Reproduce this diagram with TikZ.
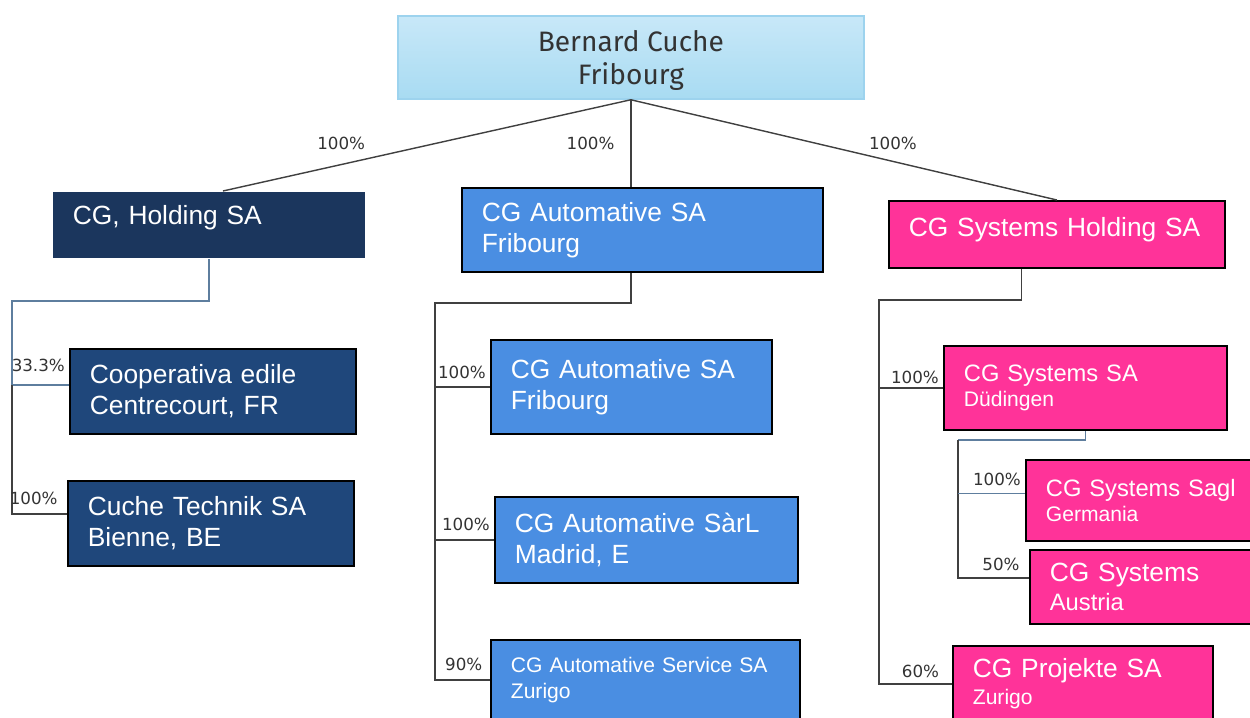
\documentclass[tikz,border=0pt]{standalone}
\usepackage{fontspec}
\setmainfont{Liberation Sans}
\newfontfamily\ownerfont{Fira Sans}
\newfontfamily\pctfont{DejaVu Sans}

\newlength\px
\setlength\px{0.02cm}

\definecolor{skytop}{HTML}{C8E8F8}
\definecolor{skybot}{HTML}{A8DBF2}
\definecolor{skyline}{HTML}{9DD3EE}
\definecolor{navy}{HTML}{1B365D}
\definecolor{deepblue}{HTML}{1F477B}
\definecolor{azure}{HTML}{4A8EE2}
\definecolor{rose}{HTML}{FF3399}
\definecolor{linkgrey}{HTML}{404040}
\definecolor{steelgrey}{HTML}{5E7E9E}
\definecolor{pctgrey}{HTML}{333333}

\tikzset{
  owner/.style={anchor=north west, draw=skyline, line width=1pt, top color=skytop, bottom color=skybot,
    align=center, text=black!80, font=\ownerfont\fontsize{16}{18.5}\selectfont},
  box/.style={anchor=north west, draw=black, line width=1pt, text=white, align=left,
    inner xsep=20\px, inner ysep=0pt, font=\fontsize{15}{17.5}\selectfont},
  link/.style={draw=linkgrey, line width=0.8pt},
  steel/.style={draw=steelgrey},
  pct/.style={font=\pctfont\fontsize{9.5}{11}\selectfont, text=pctgrey, inner sep=2pt},
}

\begin{document}
\begin{tikzpicture}[x=0.02cm, y=-0.02cm]
\useasboundingbox[fill=white] (0,0) rectangle (1250,717);

% owner
\node[owner, minimum width=466\px, minimum height=83\px, text depth=-1pt] (owner) at (397,15) {Bernard Cuche\\Fribourg};

% first level
\node[box, fill=navy, draw=none, minimum width=312\px, text width=272\px, minimum height=66\px, text depth=11pt] (hold) at (52,191) {CG, Holding SA};
\node[box, fill=azure, minimum width=361\px, text width=321\px, minimum height=84\px] (auto) at (461,187) {CG Automative SA\\Fribourg};
\node[box, fill=rose, minimum width=336\px, text width=296\px, minimum height=67\px, text depth=9pt] (sysh) at (888,200) {CG Systems Holding SA};

% CG Holding
\node[box, fill=deepblue, minimum width=286\px, text width=246\px, minimum height=85\px] (coop) at (69,348) {Cooperativa edile\\Centrecourt, FR};
\node[box, fill=deepblue, minimum width=286\px, text width=246\px, minimum height=85\px] (tech) at (67,480) {Cuche Technik SA\\Bienne, BE};

% CG Automative
\node[box, fill=azure, minimum width=281\px, text width=241\px, minimum height=94\px] (aut1) at (490,339) {CG Automative SA\\Fribourg};
\node[box, fill=azure, minimum width=303\px, text width=263\px, minimum height=86\px] (aut2) at (494,496) {CG Automative SàrL\\Madrid, E};
\node[box, fill=azure, minimum width=309\px, text width=269\px, minimum height=80\px, font=\fontsize{12}{15}\selectfont] (aut3) at (490,639) {CG Automative Service SA\\Zurigo};

% CG Systems
\node[box, fill=rose, minimum width=283\px, text width=243\px, minimum height=84\px, font=\fontsize{13.5}{14.5}\selectfont] (dued) at (943,345) {CG Systems SA\\{\fontsize{12}{14.5}\selectfont Düdingen}};
\node[box, fill=rose, minimum width=240\px, text width=200\px, minimum height=81\px, font=\fontsize{13.5}{14.5}\selectfont] (sagl) at (1025,459) {CG Systems Sagl\\{\fontsize{12}{14.5}\selectfont Germania}};
\node[box, fill=rose, minimum width=236\px, text width=196\px, minimum height=74\px, font=\fontsize{15}{16}\selectfont] (aust) at (1029,549) {CG Systems\\{\fontsize{13.5}{16}\selectfont Austria}};
\node[box, fill=rose, minimum width=260\px, text width=220\px, minimum height=76\px, font=\fontsize{15}{15.5}\selectfont] (proj) at (952,645) {CG Projekte SA\\{\fontsize{12}{15.5}\selectfont Zurigo}};

% owner to first level
\draw[link] (owner.south) -- ([xshift=8pt]hold.north) node[pct, pos=.71, above=6pt] {100\%};
\draw[link] (owner.south) -- (owner.south |- auto.north) node[pct, midway, left=7pt] {100\%};
\draw[link] (owner.south) -- (sysh.north) node[pct, pos=.615, above=4pt] {100\%};

% CG Holding branch
\coordinate (lspine) at (12,301);
\coordinate (coopin) at ([yshift=3.7pt]coop.west);
\coordinate (techin) at ([yshift=5.4pt]tech.west);
\draw[link, steel] (hold.south) |- (lspine) |- (coopin) node[pct, above left, yshift=5pt] {33.3\%};
\draw[link] (lspine |- coopin) |- (techin) node[pct, above left, xshift=-3pt, yshift=3pt] {100\%};

% CG Automative branch
\coordinate (mspine) at (435,303);
\draw[link] (auto.south -| owner.south) |- (mspine) |- (aut3.west) node[pct, above left, xshift=-2pt, yshift=3pt] {90\%};
\draw[link] (mspine |- aut1.west) -- (aut1.west) node[pct, above left, yshift=2pt] {100\%};
\draw[link] (mspine |- aut2.west) -- (aut2.west) node[pct, above left, yshift=3pt] {100\%};

% CG Systems branch
\coordinate (rspine) at (879,300);
\draw[link] ([xshift=-20pt]sysh.south) |- (rspine) |- (proj.west) node[pct, above left, xshift=-5pt, yshift=1pt] {60\%};
\draw[link] (rspine |- dued.west) -- (dued.west) node[pct, above left] {100\%};
\coordinate (sspine) at (958,440);
\coordinate (saglin) at ([yshift=4pt]sagl.west);
\coordinate (austin) at ([yshift=5pt]aust.west);
\draw[link, steel] (dued.south) |- (sspine);
\draw[link] (sspine) |- (austin) node[pct, above left, xshift=-3pt, yshift=2pt] {50\%};
\draw[link, steel] (sspine |- saglin) -- (saglin) node[pct, above left, yshift=2pt] {100\%};
\end{tikzpicture}
\end{document}
